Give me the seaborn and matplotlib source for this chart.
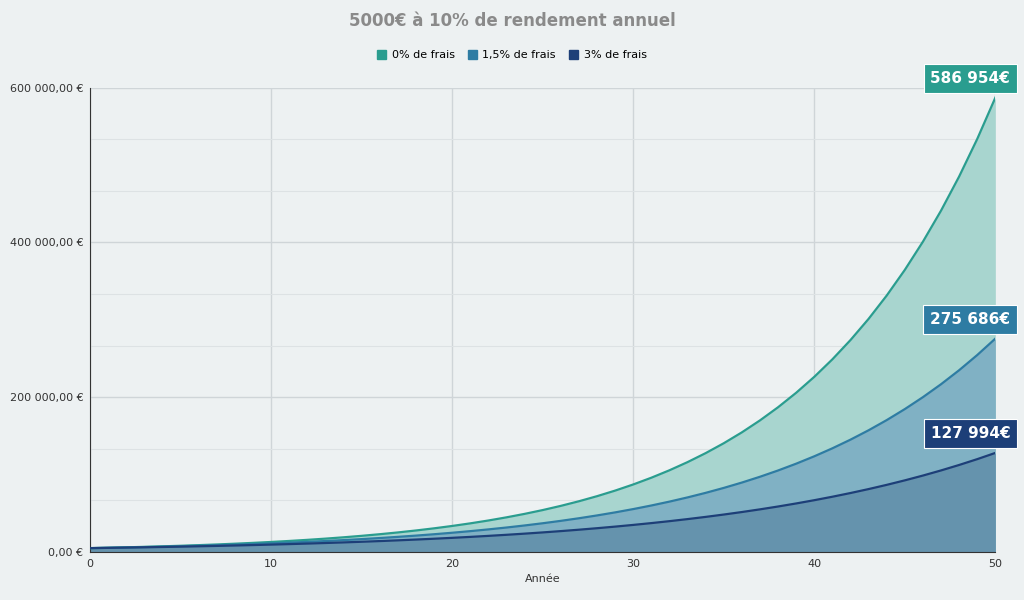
import matplotlib
matplotlib.use("Agg")
import matplotlib.pyplot as plt
import seaborn as sns
import pandas as pd
import numpy as np
from matplotlib.ticker import FixedLocator
from matplotlib.patches import Patch

years = list(range(51))
frais_0 = [5000,5500,6050,6655,7321,8053,8858,9744,10718,11790,12969,14266,15692,17261,18987,20886,22975,25272,27800,30580,33637,37001,40701,44771,49249,54174,59591,65550,72105,79316,87247,95972,105569,116126,127738,140512,154563,170020,187022,205724,226296,248926,273819,301200,331320,364452,400898,440987,485086,533595,586954]
frais_15 = [5000,5418,5870,6360,6891,7467,8090,8766,9498,10291,11150,12081,13090,14183,15367,16650,18040,19547,21179,22947,24863,26939,29189,31626,34267,37128,40228,43587,47227,51170,55443,60072,65088,70523,76412,82792,89705,97196,105312,114105,123633,133957,145142,157262,170393,184621,200037,216740,234838,254447,275686]
frais_3 = [5000,5335,5693,6074,6481,6916,7379,7873,8401,8963,9564,10205,10888,11618,12396,13227,14113,15059,16068,17144,18293,19518,20826,22221,23710,25298,26993,28802,30731,32790,34987,37331,39833,42501,45349,48387,51629,55088,58779,62717,66919,71403,76187,81291,86738,92549,98750,105366,112425,119957,127994]
series_names = ["0% de frais", "1,5% de frais", "3% de frais"]
end_labels = ["586 954€", "275 686€", "127 994€"]
colors = ["#2a9d8f", "#2e7ca3", "#1d3f78"]
fills = ["#a8d5cf", "#80b1c4", "#6593ad"]

df = pd.DataFrame({"Année": years * 3,
                   "val": frais_0 + frais_15 + frais_3,
                   "s": sum([[n] * 51 for n in series_names], [])})

bg = "#edf1f2"
fig = plt.figure(figsize=(10.24, 6.0), dpi=100, facecolor=bg)
ax = fig.add_axes([0.088, 0.08, 0.884, 0.774], facecolor=bg)

for vals, fc in zip([frais_0, frais_15, frais_3], fills):
    ax.fill_between(years, vals, 0, color=fc, lw=0, zorder=1)
sns.lineplot(data=df, x="Année", y="val", hue="s", palette=colors, lw=1.6,
             ax=ax, legend=False, zorder=3)

ax.set_xlim(0, 50)
ax.set_ylim(0, 600000)
ax.set_xticks([0, 10, 20, 30, 40, 50])
ax.set_yticks([0, 200000, 400000, 600000])
ax.set_yticklabels(["0,00 €", "200 000,00 €", "400 000,00 €", "600 000,00 €"])
ax.yaxis.set_minor_locator(FixedLocator(np.linspace(0, 600000, 10)))
ax.grid(True, which="major", color="#cfd5d8", lw=1, zorder=0)
ax.grid(True, which="minor", axis="y", color="#dde2e4", lw=0.8, zorder=0)
ax.set_axisbelow(True)
ax.tick_params(axis="both", labelsize=8, colors="#333333", length=0, pad=5)
ax.tick_params(which="minor", length=0)
for s in ["top", "right"]:
    ax.spines[s].set_visible(False)
ax.spines["left"].set_color("#333333")
ax.spines["bottom"].set_color("#333333")
ax.set_xlabel("Année", fontsize=8, color="#333333")
ax.set_ylabel("")

fig.text(0.5, 0.965, "5000€ à 10% de rendement annuel", ha="center", va="center",
         fontsize=12, fontweight="bold", color="#8a8a8a")
handles = [Patch(color=c) for c in colors]
fig.legend(handles, series_names, loc="center", bbox_to_anchor=(0.5, 0.908), ncol=3,
           frameon=False, fontsize=8, handlelength=0.8, handleheight=0.8,
           columnspacing=1.2, handletextpad=0.5)

for vals, lab, c in zip([frais_0, frais_15, frais_3], end_labels, colors):
    ax.annotate(lab, xy=(50, vals[-1]), xytext=(-18, 14), textcoords="offset points",
                ha="center", va="center", fontsize=11, fontweight="bold", color="white",
                bbox=dict(boxstyle="square,pad=0.45", fc=c, ec="white", lw=0.8),
                annotation_clip=False, zorder=5)

fig.savefig("out.png", dpi=100, facecolor=bg)
